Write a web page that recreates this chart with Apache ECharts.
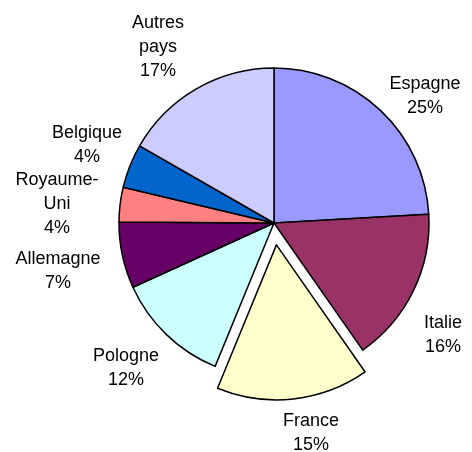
<!DOCTYPE html>
<html>
<head>
<meta charset="utf-8">
<script src="https://cdn.jsdelivr.net/npm/echarts@6/dist/echarts.min.js"></script>
<style>html,body{margin:0;padding:0;background:#fff;}#c{width:472px;height:452px;}</style>
</head>
<body>
<div id="c"></div>
<script>
// Data (clockwise from 12 o'clock)
const categories = ['Espagne', 'Italie', 'France', 'Pologne', 'Allemagne', 'Royaume-Uni', 'Belgique', 'Autres pays'];
const labelNames = ['Espagne', 'Italie', 'France', 'Pologne', 'Allemagne', 'Royaume-\nUni', 'Belgique', 'Autres\npays'];
const values = [24.1, 16.2, 15.9, 12.0, 6.9, 3.6, 4.6, 16.7];
const percentLabels = ['25%', '16%', '15%', '12%', '7%', '4%', '4%', '17%'];
const explodedCategory = 'France';

// Styles / layout
const colors = ['#9999FF', '#993366', '#FFFFCC', '#CCFFFF', '#660066', '#FF8080', '#0066CC', '#CCCCFF'];
const labelPos = [[425, 96], [443, 335], [311, 433], [126, 368], [58, 271], [57, 204], [87, 145], [158, 47]];

const pieBase = {
  type: 'pie',
  center: [274, 223],
  radius: 155,
  startAngle: 90,
  clockwise: true,
  avoidLabelOverlap: false,
  emphasis: {disabled: true},
  labelLine: {show: false}
};

const chart = echarts.init(document.getElementById('c'), null, {renderer: 'canvas'});
chart.setOption({
  animation: false,
  backgroundColor: '#fff',
  series: [
    Object.assign({}, pieBase, {
      selectedMode: 'single',
      selectedOffset: 22,
      itemStyle: {borderColor: '#000', borderWidth: 1.5},
      label: {show: false},
      data: categories.map((c, i) => ({
        name: c,
        value: values[i],
        selected: c === explodedCategory,
        itemStyle: {color: colors[i]}
      }))
    }),
    Object.assign({}, pieBase, {
      silent: true,
      selectedMode: false,
      itemStyle: {color: 'rgba(0,0,0,0)', borderWidth: 0},
      label: {
        show: true,
        position: 'outside',
        fontFamily: 'Liberation Sans, Arial, sans-serif',
        fontSize: 18,
        lineHeight: 24,
        color: '#000',
        align: 'center',
        formatter: p => labelNames[p.dataIndex] + '\n' + percentLabels[p.dataIndex]
      },
      labelLayout: p => ({
        x: labelPos[p.dataIndex][0],
        y: labelPos[p.dataIndex][1],
        align: 'center',
        verticalAlign: 'middle'
      }),
      data: categories.map((c, i) => ({name: c, value: values[i]}))
    })
  ]
});
</script>
</body>
</html>
